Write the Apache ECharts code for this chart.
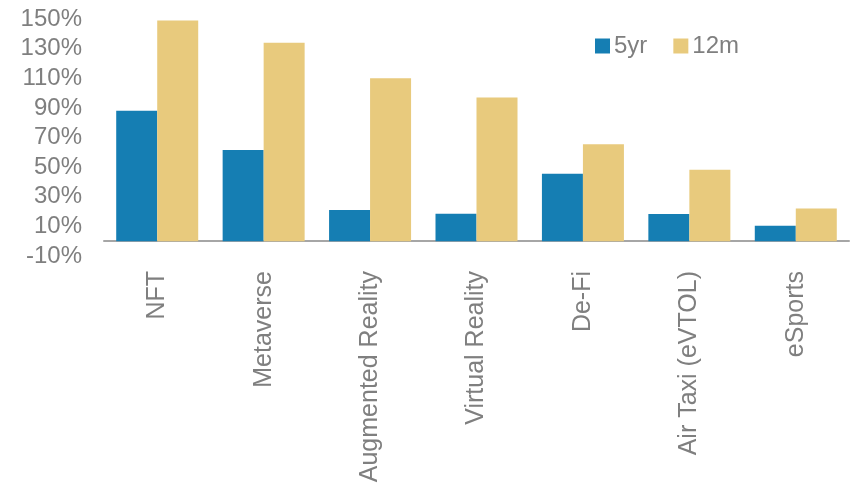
<!DOCTYPE html>
<html>
<head>
<meta charset="utf-8">
<script src="https://cdn.jsdelivr.net/npm/echarts@6/dist/echarts.min.js"></script>
<style>
  html, body { margin: 0; padding: 0; background: #fff; }
  #chart { width: 850px; height: 485px; }
</style>
</head>
<body>
<div id="chart"></div>
<script>
// categories and values (%)
const categories = ['NFT', 'Metaverse', 'Augmented Reality', 'Virtual Reality', 'De-Fi', 'Air Taxi (eVTOL)', 'eSports'];
const fiveYr = [88, 61.5, 21, 18.5, 45.5, 18.3, 10.4];
const twelveM = [149, 134, 110, 97, 65.5, 48.2, 22.1];
const seriesNames = ['5yr', '12m'];

const textColor = '#7f7f7f';
const font = '"Liberation Sans", Arial, sans-serif';

const myChart = echarts.init(document.getElementById('chart'));
myChart.setOption({
    animation: false,
    color: ['#157eb3', '#e8ca7d'],
    grid: {
        left: 104,
        right: 1,
        top: 19,
        bottom: 229,
        containLabel: false,
        outerBoundsMode: 'none'
    },
    legend: {
        data: seriesNames,
        left: 595,
        top: 34,
        padding: 0,
        itemWidth: 15,
        itemHeight: 15,
        itemGap: 26,
        icon: 'rect',
        textStyle: {
            color: textColor,
            fontSize: 24,
            fontFamily: font,
            padding: [0, 0, 0, -1]
        }
    },
    xAxis: {
        type: 'category',
        data: categories,
        axisTick: { show: false },
        axisLine: {
            onZero: true,
            lineStyle: { color: '#a6a6a6', width: 2 }
        },
        axisLabel: {
            rotate: 90,
            interval: 0,
            margin: 15,
            color: textColor,
            fontSize: 25,
            fontFamily: font
        }
    },
    yAxis: {
        type: 'value',
        min: -10,
        max: 150,
        interval: 20,
        axisLine: { show: false },
        axisTick: { show: false },
        splitLine: { show: false },
        axisLabel: {
            margin: 22,
            color: textColor,
            fontSize: 24,
            fontFamily: font,
            formatter: '{value}%'
        }
    },
    series: [
        {
            name: seriesNames[0],
            type: 'bar',
            data: fiveYr,
            barWidth: 41,
            barGap: '0%'
        },
        {
            name: seriesNames[1],
            type: 'bar',
            data: twelveM,
            barWidth: 41,
            barGap: '0%'
        }
    ]
});
</script>
</body>
</html>
